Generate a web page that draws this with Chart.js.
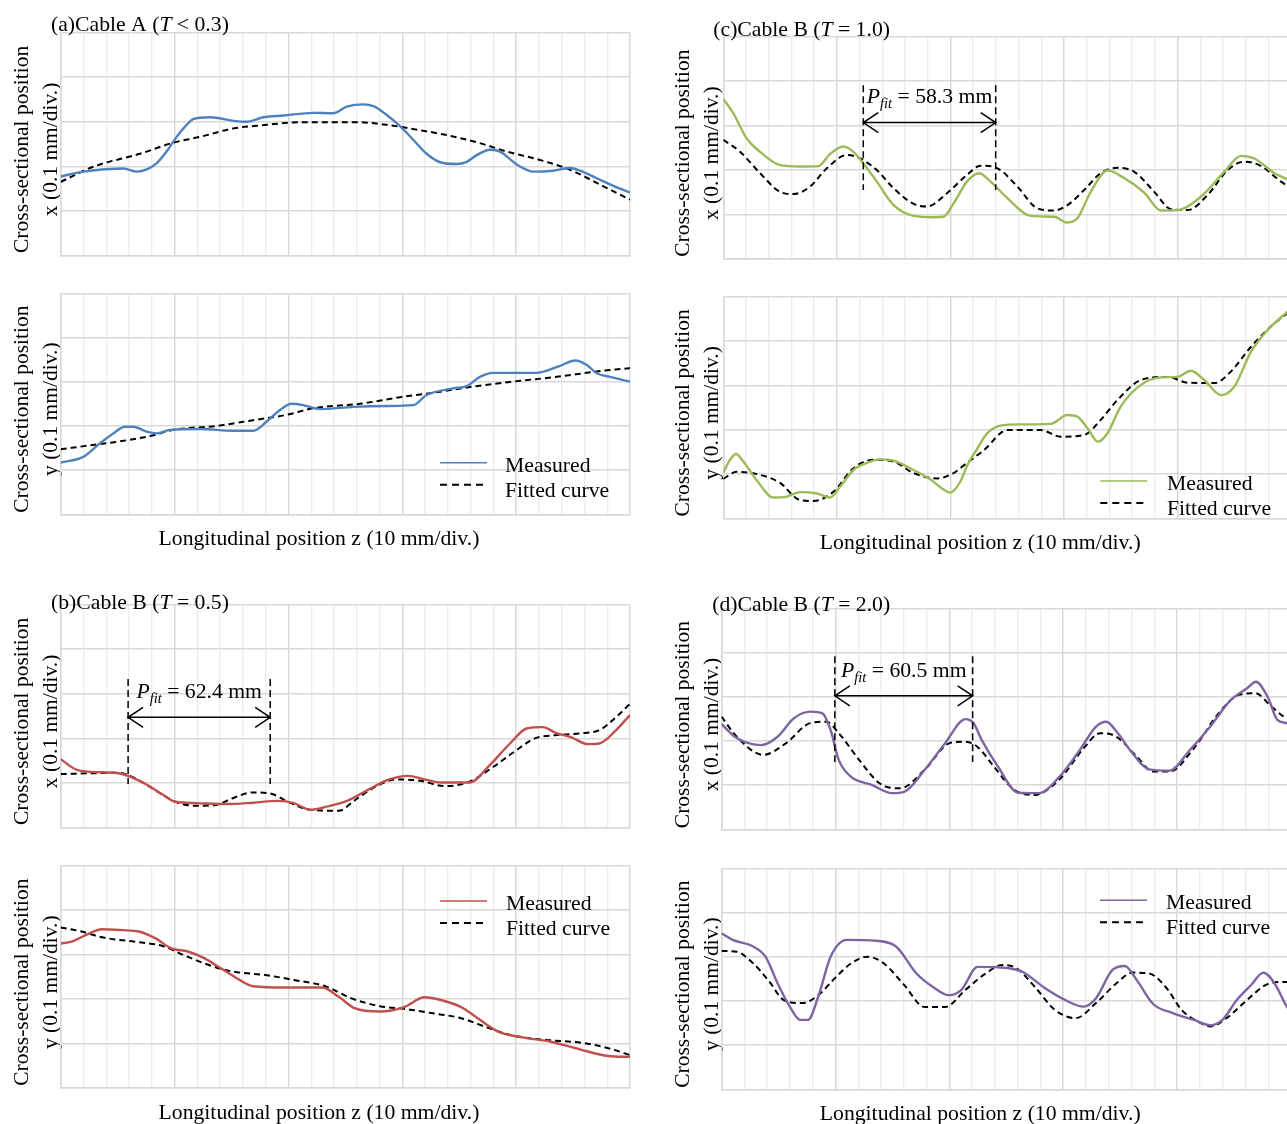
<!DOCTYPE html>
<html>
<head>
<meta charset="utf-8">
<script src="https://cdn.jsdelivr.net/npm/chart.js@4.4.1/dist/chart.umd.min.js"></script>
<style>
  html, body { margin: 0; padding: 0; background: #fff; overflow: hidden; width: 1287px; height: 1124px; }
  canvas { position: absolute; }
</style>
</head>
<body>
<canvas id="aX"></canvas>
<canvas id="aY"></canvas>
<canvas id="bX"></canvas>
<canvas id="bY"></canvas>
<canvas id="cX"></canvas>
<canvas id="cY"></canvas>
<canvas id="dX"></canvas>
<canvas id="dY"></canvas>
<script>
// Longitudinal position z in mm (0-250, 10 mm per minor division);
// cross-sectional position in units of 0.1 mm (one major division each).

// (a) Cable A, T < 0.3
const aXMeasured = [[0,1.77],[9.9,1.88],[21.7,1.94],[27.5,1.95],[33.4,1.88],[37.8,1.93],[42.2,2.07],[46.5,2.33],[50.9,2.66],[55.3,2.93],[58.2,3.06],[65.6,3.10],[75.8,3.02],[81.7,3.00],[89,3.10],[97.8,3.14],[110.9,3.20],[119.7,3.19],[125.6,3.34],[132.9,3.39],[137.3,3.35],[143.2,3.15],[149,2.90],[154.9,2.59],[160.7,2.28],[166.6,2.09],[173.9,2.05],[178.3,2.10],[182.7,2.25],[188.5,2.37],[192.9,2.33],[200.3,2.04],[207.6,1.88],[216.3,1.90],[223.7,1.96],[228.1,1.90],[235.4,1.73],[242.7,1.56],[250,1.41]];
const aXFitted = [[0,1.65],[14.3,1.99],[34.8,2.28],[49.5,2.53],[61.2,2.66],[75.8,2.85],[90.5,2.93],[100.7,2.98],[113.9,2.99],[130,2.99],[143.2,2.93],[157.8,2.81],[169.5,2.70],[184,2.52],[195.9,2.33],[210.5,2.14],[223.7,1.92],[238.3,1.55],[250,1.25]];
const aYMeasured = [[0,1.17],[9.9,1.30],[17.3,1.61],[23.1,1.83],[28.2,1.98],[31.9,1.98],[37.8,1.87],[42.2,1.83],[48,1.91],[61.2,1.93],[75.8,1.89],[84.6,1.89],[90.5,2.10],[96.3,2.36],[101.4,2.50],[106.5,2.47],[113.9,2.38],[128.5,2.43],[143.2,2.45],[154.8,2.47],[160.7,2.70],[172.4,2.85],[178.3,2.90],[184.1,3.11],[190,3.20],[201.7,3.20],[209,3.20],[219.3,3.36],[225.9,3.48],[231,3.38],[235.4,3.19],[241.3,3.11],[250,3.00]];
const aYFitted = [[0,1.47],[14.3,1.57],[24.6,1.64],[39.2,1.77],[49.5,1.91],[68.5,2.00],[84.6,2.13],[99.2,2.25],[110.9,2.40],[131.4,2.50],[149,2.65],[162.2,2.74],[181.2,2.89],[201.7,3.02],[216.3,3.10],[231,3.20],[238.3,3.25],[248.6,3.30],[250,3.31]];

// (b) Cable B, T = 0.5
const bXMeasured = [[0,1.53],[7.4,1.29],[18.1,1.24],[25.3,1.22],[30.7,1.14],[37.9,0.96],[45.1,0.73],[50.4,0.58],[59.4,0.55],[73.7,0.53],[84.5,0.56],[95.3,0.60],[102.4,0.55],[109.6,0.40],[116.7,0.47],[125.7,0.60],[134.7,0.84],[143.7,1.07],[152.6,1.16],[159.8,1.08],[166.9,1.01],[179.5,1.01],[188.4,1.40],[197.4,1.89],[204.6,2.22],[211.8,2.25],[217.1,2.13],[224.3,2.02],[231.5,1.87],[236.8,1.89],[244,2.19],[250,2.52]];
const bXFitted = [[0,1.20],[14.6,1.22],[25.3,1.23],[32.5,1.11],[41.5,0.84],[50.4,0.58],[59.4,0.49],[68.3,0.51],[75.5,0.66],[84.5,0.79],[91.7,0.77],[100.6,0.56],[109.6,0.40],[122.1,0.38],[129.3,0.62],[138.3,0.92],[147.2,1.08],[158,1.05],[168.7,0.93],[179.5,1.03],[190.2,1.37],[199.2,1.70],[208.2,2.00],[217.1,2.07],[227.9,2.11],[236.8,2.19],[244,2.48],[250,2.77]];
const bYMeasured = [[0,3.25],[4.7,3.29],[11,3.44],[18.1,3.57],[27.1,3.55],[34.3,3.52],[41.5,3.37],[48.6,3.14],[55.8,3.07],[63,2.92],[70.1,2.70],[77.3,2.47],[84.5,2.29],[98.8,2.26],[114.9,2.26],[122.1,2.05],[129.3,1.79],[140.1,1.72],[150.8,1.82],[159.8,2.04],[166.9,1.98],[175.9,1.82],[183.1,1.57],[192,1.27],[202.8,1.14],[215.3,1.04],[227.9,0.87],[240.4,0.72],[250,0.70]];
const bYFitted = [[0,3.61],[9.2,3.52],[18.1,3.39],[32.5,3.29],[45.1,3.19],[54,2.99],[66.5,2.74],[75.5,2.62],[89.9,2.54],[102.4,2.43],[116.7,2.28],[127.5,2.02],[140.1,1.84],[152.6,1.77],[163.4,1.68],[175.9,1.57],[188.4,1.34],[199.2,1.17],[213.5,1.08],[229.7,1.01],[242.2,0.87],[250,0.74]];

// (c) Cable B, T = 1.0
const cXMeasured = [[0,3.60],[4.4,3.28],[10.3,2.71],[16.2,2.41],[25,2.11],[33.8,2.08],[41.9,2.09],[47,2.36],[52.8,2.53],[57.3,2.41],[61.7,2.15],[67.6,1.74],[75,1.21],[83.8,0.97],[92.6,0.94],[97,0.95],[101.4,1.25],[107.3,1.74],[112.6,1.93],[117.7,1.74],[125.1,1.37],[135.4,0.97],[145.7,0.95],[151.5,0.82],[156,0.92],[161.8,1.51],[169.2,1.99],[176.5,1.82],[185.4,1.49],[192.7,1.09],[200,1.10],[210.3,1.40],[220.6,1.96],[228,2.32],[233.9,2.26],[242.7,1.93],[248.5,1.79],[250,1.75]];
const cXFitted = [[0,2.68],[7.4,2.41],[16.2,1.93],[25,1.51],[30.9,1.46],[38.2,1.63],[45.6,2.04],[54.4,2.34],[60.3,2.26],[67.6,2.00],[75,1.59],[83.8,1.24],[89.7,1.18],[98.5,1.48],[107.3,1.89],[113.3,2.10],[120.7,2.04],[129.5,1.63],[138.3,1.14],[145.7,1.09],[151.5,1.21],[158.9,1.55],[166.2,1.93],[173.6,2.05],[181,1.96],[189.8,1.51],[197.1,1.12],[204.5,1.10],[213.3,1.44],[222.1,2.00],[229.5,2.19],[236.8,2.09],[245.6,1.74],[250,1.60]];
const cYMeasured = [[0,1.03],[3,1.32],[5.6,1.45],[8.8,1.28],[14.7,0.86],[22,0.47],[28,0.49],[33.8,0.59],[41.2,0.56],[47,0.47],[51.4,0.71],[57.3,1.09],[63.2,1.25],[69.1,1.33],[75,1.30],[83.8,1.09],[91.1,0.88],[97,0.65],[100,0.58],[104.4,0.83],[107.3,1.18],[111.9,1.58],[116.3,1.92],[122.1,2.09],[131,2.12],[144.2,2.13],[151.5,2.33],[156,2.29],[160.4,2.03],[164.9,1.73],[169.2,1.92],[175,2.52],[183.9,3.01],[192.7,3.18],[200,3.19],[205.9,3.33],[211.8,3.12],[219.1,2.78],[225,2.97],[232.4,3.76],[239.7,4.25],[248.5,4.66],[250,4.72]];
const cYFitted = [[0,0.89],[5.9,1.05],[16.2,0.98],[25,0.80],[33.8,0.41],[39.7,0.39],[48.5,0.60],[57.3,1.13],[66.1,1.32],[75,1.28],[83.8,1.02],[94.1,0.90],[101.4,1.02],[107.3,1.25],[114.8,1.54],[125.1,1.99],[139.8,1.99],[148.6,1.84],[158.9,1.88],[166.2,2.22],[173.6,2.67],[183.9,3.12],[195.6,3.19],[204.5,3.06],[216.2,3.05],[223.5,3.31],[232.4,3.87],[242.7,4.40],[248.5,4.63],[250,4.68]];

// (d) Cable B, T = 2.0
const dXMeasured = [[0,2.39],[6.7,2.07],[17.5,1.91],[24.6,2.10],[31.8,2.52],[39,2.67],[44.3,2.63],[47.9,2.25],[51.5,1.57],[56.9,1.19],[65.9,1.01],[74.8,0.82],[80.2,0.85],[89.2,1.35],[98.1,1.95],[107.1,2.50],[110.6,2.41],[114.2,2.03],[121.4,1.42],[130.3,0.83],[139.3,0.82],[148.3,1.19],[157.3,1.80],[164.4,2.33],[168.9,2.44],[173.4,2.22],[180.5,1.72],[187.7,1.36],[196.6,1.33],[205.6,1.80],[214.5,2.33],[223.5,2.93],[230.7,3.20],[234.6,3.35],[239.7,3.01],[244.1,2.48],[248.3,2.41],[250,2.39]];
const dXFitted = [[0,2.56],[6.7,2.10],[18.4,1.69],[28.2,1.95],[39,2.41],[46.1,2.44],[51.5,2.18],[60.5,1.57],[69.5,1.04],[78.4,0.93],[89.2,1.35],[99.9,1.95],[107.1,1.99],[112.4,1.87],[119.6,1.42],[128.6,0.89],[137.5,0.78],[148.3,1.13],[159,1.84],[166.2,2.18],[173.4,2.10],[182.3,1.65],[189.5,1.31],[196.6,1.31],[207.4,1.84],[218.2,2.63],[227.1,3.05],[234.3,3.09],[241.5,2.78],[246.8,2.56],[250,2.48]];
const dYMeasured = [[0,3.53],[4.9,3.38],[13.9,3.23],[19.3,3.00],[24.6,2.40],[30,1.87],[34.5,1.57],[38,1.57],[42.5,2.10],[47.9,3.00],[55.1,3.38],[67.7,3.36],[76.6,3.23],[85.6,2.62],[92.7,2.32],[99.9,2.13],[105.3,2.25],[112.4,2.77],[121.4,2.76],[132.1,2.66],[141.1,2.32],[150.1,2.04],[159,1.87],[164.4,2.06],[171.6,2.70],[177,2.79],[182.3,2.47],[189.5,1.93],[198.4,1.72],[207.4,1.57],[214.6,1.45],[219.9,1.57],[226.2,2.02],[232.5,2.36],[237.9,2.64],[243.2,2.36],[247.7,1.91],[250,1.75]];
const dYFitted = [[0,3.13],[6.7,3.11],[13.9,2.85],[21.1,2.43],[27.3,2.02],[35.4,1.95],[42.5,2.13],[49.7,2.51],[56.9,2.85],[64.1,3.00],[71.2,2.85],[80.2,2.36],[89.2,1.86],[98.1,1.86],[107.1,2.25],[116,2.62],[123.2,2.81],[129.5,2.74],[137.5,2.32],[146.5,1.79],[155.5,1.61],[164.4,1.95],[173.4,2.40],[180.5,2.64],[187.7,2.62],[194.9,2.32],[202.1,1.79],[209.2,1.53],[214.6,1.42],[221.7,1.61],[230.7,2.02],[239.7,2.38],[247.7,2.43],[250,2.43]];

// Fitted twist pitches (mm) and where their brackets start along z (mm)
const pitchB = 62.4, pitchBStart = 29.6;
const pitchC = 58.3, pitchCStart = 61.65;
const pitchD = 60.5, pitchDStart = 49.75;

const seriesLabels = ['Measured', 'Fitted curve'];
const panelTitles = [
  ['(a)Cable A (', 'T', ' < 0.3)'],
  ['(b)Cable B (', 'T', ' = 0.5)'],
  ['(c)Cable B (', 'T', ' = 1.0)'],
  ['(d)Cable B (', 'T', ' = 2.0)']
];
const xAxisTitle = 'Longitudinal position z (10 mm/div.)';
// the trailing no-break spaces nudge the rotated title slightly downward
const yAxisTitle = axis => ['Cross-sectional position\u00a0\u00a0', axis + ' (0.1 mm/div.)\u00a0\u00a0'];

const Z_MAX = 250, Z_MINOR = 10, Z_MAJOR = 50, Y_MAX = 5;

const FONT_PX = 21.7;
const SERIF = "'Liberation Serif', 'Times New Roman', serif";
const ROMAN = FONT_PX + 'px ' + SERIF;
const ITALIC = 'italic ' + FONT_PX + 'px ' + SERIF;
const SUB = 'italic 14.5px ' + SERIF;
const GRID_MAJOR = '#d9d9d9';
const GRID_MINOR = '#ececec';
const X_TITLE_PAD = 12.2;

Chart.defaults.font.family = SERIF;
Chart.defaults.font.size = FONT_PX;
Chart.defaults.color = '#000';

function drawRuns(ctx, runs, x, y) {
  for (const r of runs) {
    ctx.font = r.font;
    ctx.fillText(r.text, x, y + (r.dy || 0));
    x += ctx.measureText(r.text).width;
  }
}
function runsWidth(ctx, runs) {
  let w = 0;
  for (const r of runs) { ctx.font = r.font; w += ctx.measureText(r.text).width; }
  return w;
}

// Panel heading, pitch bracket and in-plot legend
const decor = {
  id: 'decor',
  afterDraw(chart, _args, o) {
    const { ctx, chartArea: ca } = chart;
    const xs = chart.scales.x, ys = chart.scales.y;
    ctx.save();
    ctx.fillStyle = '#000';
    ctx.textAlign = 'left';
    ctx.textBaseline = 'alphabetic';

    if (o.heading) {
      const [pre, it, post] = o.heading.parts;
      drawRuns(ctx, [
        { text: pre, font: ROMAN }, { text: it, font: ITALIC }, { text: post, font: ROMAN }
      ], ca.left + o.heading.dx, ca.top + o.heading.dy);
    }

    if (o.pitch) {
      const p = o.pitch;
      const x0 = xs.getPixelForValue(p.start);
      const x1 = xs.getPixelForValue(p.start + p.length);
      const yt = ys.getPixelForValue(p.top), yb = ys.getPixelForValue(p.bottom);
      const ya = ys.getPixelForValue(p.arrow);
      ctx.strokeStyle = '#000';
      ctx.lineWidth = 1.5;
      ctx.setLineDash([7, 4]);
      ctx.beginPath();
      ctx.moveTo(x0, yt); ctx.lineTo(x0, yb);
      ctx.moveTo(x1, yt); ctx.lineTo(x1, yb);
      ctx.stroke();
      ctx.setLineDash([]);
      const hl = 15, hw = 10;
      ctx.beginPath();
      ctx.moveTo(x0, ya); ctx.lineTo(x1, ya);
      ctx.moveTo(x0 + hl, ya - hw); ctx.lineTo(x0, ya); ctx.lineTo(x0 + hl, ya + hw);
      ctx.moveTo(x1 - hl, ya - hw); ctx.lineTo(x1, ya); ctx.lineTo(x1 - hl, ya + hw);
      ctx.stroke();
      const runs = [
        { text: 'P', font: ITALIC },
        { text: 'fit', font: SUB, dy: 5 },
        { text: ' = ' + p.length.toFixed(1) + ' mm', font: ROMAN }
      ];
      const w = runsWidth(ctx, runs);
      drawRuns(ctx, runs, (x0 + x1) / 2 - w / 2, ys.getPixelForValue(p.label));
    }

    if (o.legend) {
      const L = o.legend;
      chart.data.datasets.forEach((d, i) => {
        const base = ca.top + L.dy + i * 25;
        const dashed = !!(d.borderDash && d.borderDash.length);
        const ly = base - (dashed ? 12 : 9);
        ctx.strokeStyle = d.borderColor;
        ctx.lineWidth = dashed ? 2 : 1.6;
        ctx.setLineDash(dashed ? [7, 5] : []);
        ctx.beginPath();
        ctx.moveTo(ca.left + L.dx, ly);
        ctx.lineTo(ca.left + L.dx + 47, ly);
        ctx.stroke();
        ctx.setLineDash([]);
        ctx.font = ROMAN;
        ctx.fillText(d.label, ca.left + L.textDx, base);
      });
    }
    ctx.restore();
  }
};

const toPoints = pairs => pairs.map(([x, y]) => ({ x, y }));

function makePanel(cfg) {
  const el = document.getElementById(cfg.id);
  const c = cfg.canvas, p = cfg.plot;
  el.width = c.w; el.height = c.h;
  Object.assign(el.style, { left: c.l + 'px', top: c.t + 'px', width: c.w + 'px', height: c.h + 'px' });
  const yWidth = p.l - c.l - cfg.padLeft;
  const titleH = cfg.xTitle ? X_TITLE_PAD + FONT_PX * 1.2 : 0;
  const isMajor = ctx => ctx.tick && Math.abs(ctx.tick.value % Z_MAJOR) < 1e-6;

  return new Chart(el, {
    type: 'line',
    data: {
      datasets: [
        { label: seriesLabels[0], data: toPoints(cfg.measured), borderColor: cfg.color, borderWidth: 2.4 },
        { label: seriesLabels[1], data: toPoints(cfg.fitted), borderColor: '#000', borderWidth: 2, borderDash: [6, 4] }
      ]
    },
    options: {
      responsive: false,
      animation: false,
      devicePixelRatio: 1,
      layout: {
        padding: {
          left: cfg.padLeft,
          right: c.l + c.w - p.r,
          top: p.t - c.t,
          bottom: c.t + c.h - p.b - titleH
        }
      },
      elements: {
        point: { radius: 0 },
        line: { cubicInterpolationMode: 'monotone', fill: false }
      },
      scales: {
        x: {
          type: 'linear', min: 0, max: Z_MAX,
          ticks: { display: false, stepSize: Z_MINOR },
          grid: {
            drawTicks: false,
            color: ctx => isMajor(ctx) ? GRID_MAJOR : GRID_MINOR,
            lineWidth: ctx => isMajor(ctx) ? 1.5 : 1.3
          },
          border: { color: GRID_MAJOR, width: 1.5 },
          afterFit(s) { s.height = 0; }
        },
        y: {
          type: 'linear', min: 0, max: Y_MAX,
          ticks: { display: false, stepSize: 1 },
          grid: { drawTicks: false, color: GRID_MAJOR, lineWidth: 1.5 },
          border: { color: GRID_MAJOR, width: 1.5 },
          title: {
            display: true,
            text: yAxisTitle(cfg.axis),
            color: '#000',
            font: { size: 21.5, lineHeight: 1.33 },
            padding: { top: 0, bottom: 0 }
          },
          afterFit(s) { s.width = yWidth; }
        }
      },
      plugins: {
        legend: { display: false },
        tooltip: { enabled: false },
        title: cfg.xTitle ? {
          display: true, position: 'bottom', text: xAxisTitle, color: '#000',
          font: { size: FONT_PX, weight: 'normal', lineHeight: 1.2 },
          padding: { top: X_TITLE_PAD, bottom: 0 }
        } : { display: false },
        decor: cfg.decor
      }
    },
    plugins: [decor]
  });
}

const BLUE = '#4f81bd', RED = '#c0504d', GREEN = '#9bbb59', PURPLE = '#8064a2';

// left column
makePanel({
  id: 'aX', axis: 'x', color: BLUE, measured: aXMeasured, fitted: aXFitted, padLeft: 8,
  canvas: { l: 0, t: 0, w: 640, h: 262 }, plot: { l: 60.7, t: 32.7, r: 630, b: 255.3 },
  decor: { heading: { parts: panelTitles[0], dx: -9.7, dy: -2.2 } }
});
makePanel({
  id: 'aY', axis: 'y', color: BLUE, measured: aYMeasured, fitted: aYFitted, padLeft: 8, xTitle: true,
  canvas: { l: 0, t: 285, w: 640, h: 275 }, plot: { l: 60.7, t: 293.3, r: 630, b: 514.3 },
  decor: { legend: { dx: 379.3, textDx: 444.3, dy: 178.4 } }
});
makePanel({
  id: 'bX', axis: 'x', color: RED, measured: bXMeasured, fitted: bXFitted, padLeft: 8,
  canvas: { l: 0, t: 580, w: 640, h: 255 }, plot: { l: 60.7, t: 604.3, r: 630, b: 827.7 },
  decor: {
    heading: { parts: panelTitles[1], dx: -9.7, dy: 4.7 },
    pitch: { start: pitchBStart, length: pitchB, top: 3.33, bottom: 0.98, arrow: 2.47, label: 2.90 }
  }
});
makePanel({
  id: 'bY', axis: 'y', color: RED, measured: bYMeasured, fitted: bYFitted, padLeft: 8, xTitle: true,
  canvas: { l: 0, t: 858, w: 640, h: 272 }, plot: { l: 60.7, t: 865.7, r: 630, b: 1088 },
  decor: { legend: { dx: 379.3, textDx: 445.3, dy: 44.3 } }
});

// right column (its last division runs past the page edge)
makePanel({
  id: 'cX', axis: 'x', color: GREEN, measured: cXMeasured, fitted: cXFitted, padLeft: 22.5,
  canvas: { l: 647, t: 0, w: 653, h: 266 }, plot: { l: 723.3, t: 36.7, r: 1291, b: 259 },
  decor: {
    heading: { parts: panelTitles[2], dx: -10, dy: -0.7 },
    pitch: { start: pitchCStart, length: pitchC, top: 3.91, bottom: 1.55, arrow: 3.07, label: 3.51 }
  }
});
makePanel({
  id: 'cY', axis: 'y', color: GREEN, measured: cYMeasured, fitted: cYFitted, padLeft: 22.5, xTitle: true,
  canvas: { l: 647, t: 289, w: 653, h: 275 }, plot: { l: 723.3, t: 296.7, r: 1291, b: 518.3 },
  decor: { legend: { dx: 377, textDx: 443.7, dy: 193.3 } }
});
makePanel({
  id: 'dX', axis: 'x', color: PURPLE, measured: dXMeasured, fitted: dXFitted, padLeft: 22.5,
  canvas: { l: 647, t: 580, w: 653, h: 255 }, plot: { l: 721.5, t: 609, r: 1291, b: 829.3 },
  decor: {
    heading: { parts: panelTitles[3], dx: -9.2, dy: 1.7 },
    pitch: { start: pitchDStart, length: pitchD, top: 3.93, bottom: 1.53, arrow: 3.03, label: 3.46 }
  }
});
makePanel({
  id: 'dY', axis: 'y', color: PURPLE, measured: dYMeasured, fitted: dYFitted, padLeft: 22.5, xTitle: true,
  canvas: { l: 647, t: 860, w: 653, h: 272 }, plot: { l: 721.5, t: 868.3, r: 1291, b: 1089.3 },
  decor: { legend: { dx: 378.5, textDx: 444.5, dy: 41 } }
});
</script>
</body>
</html>
